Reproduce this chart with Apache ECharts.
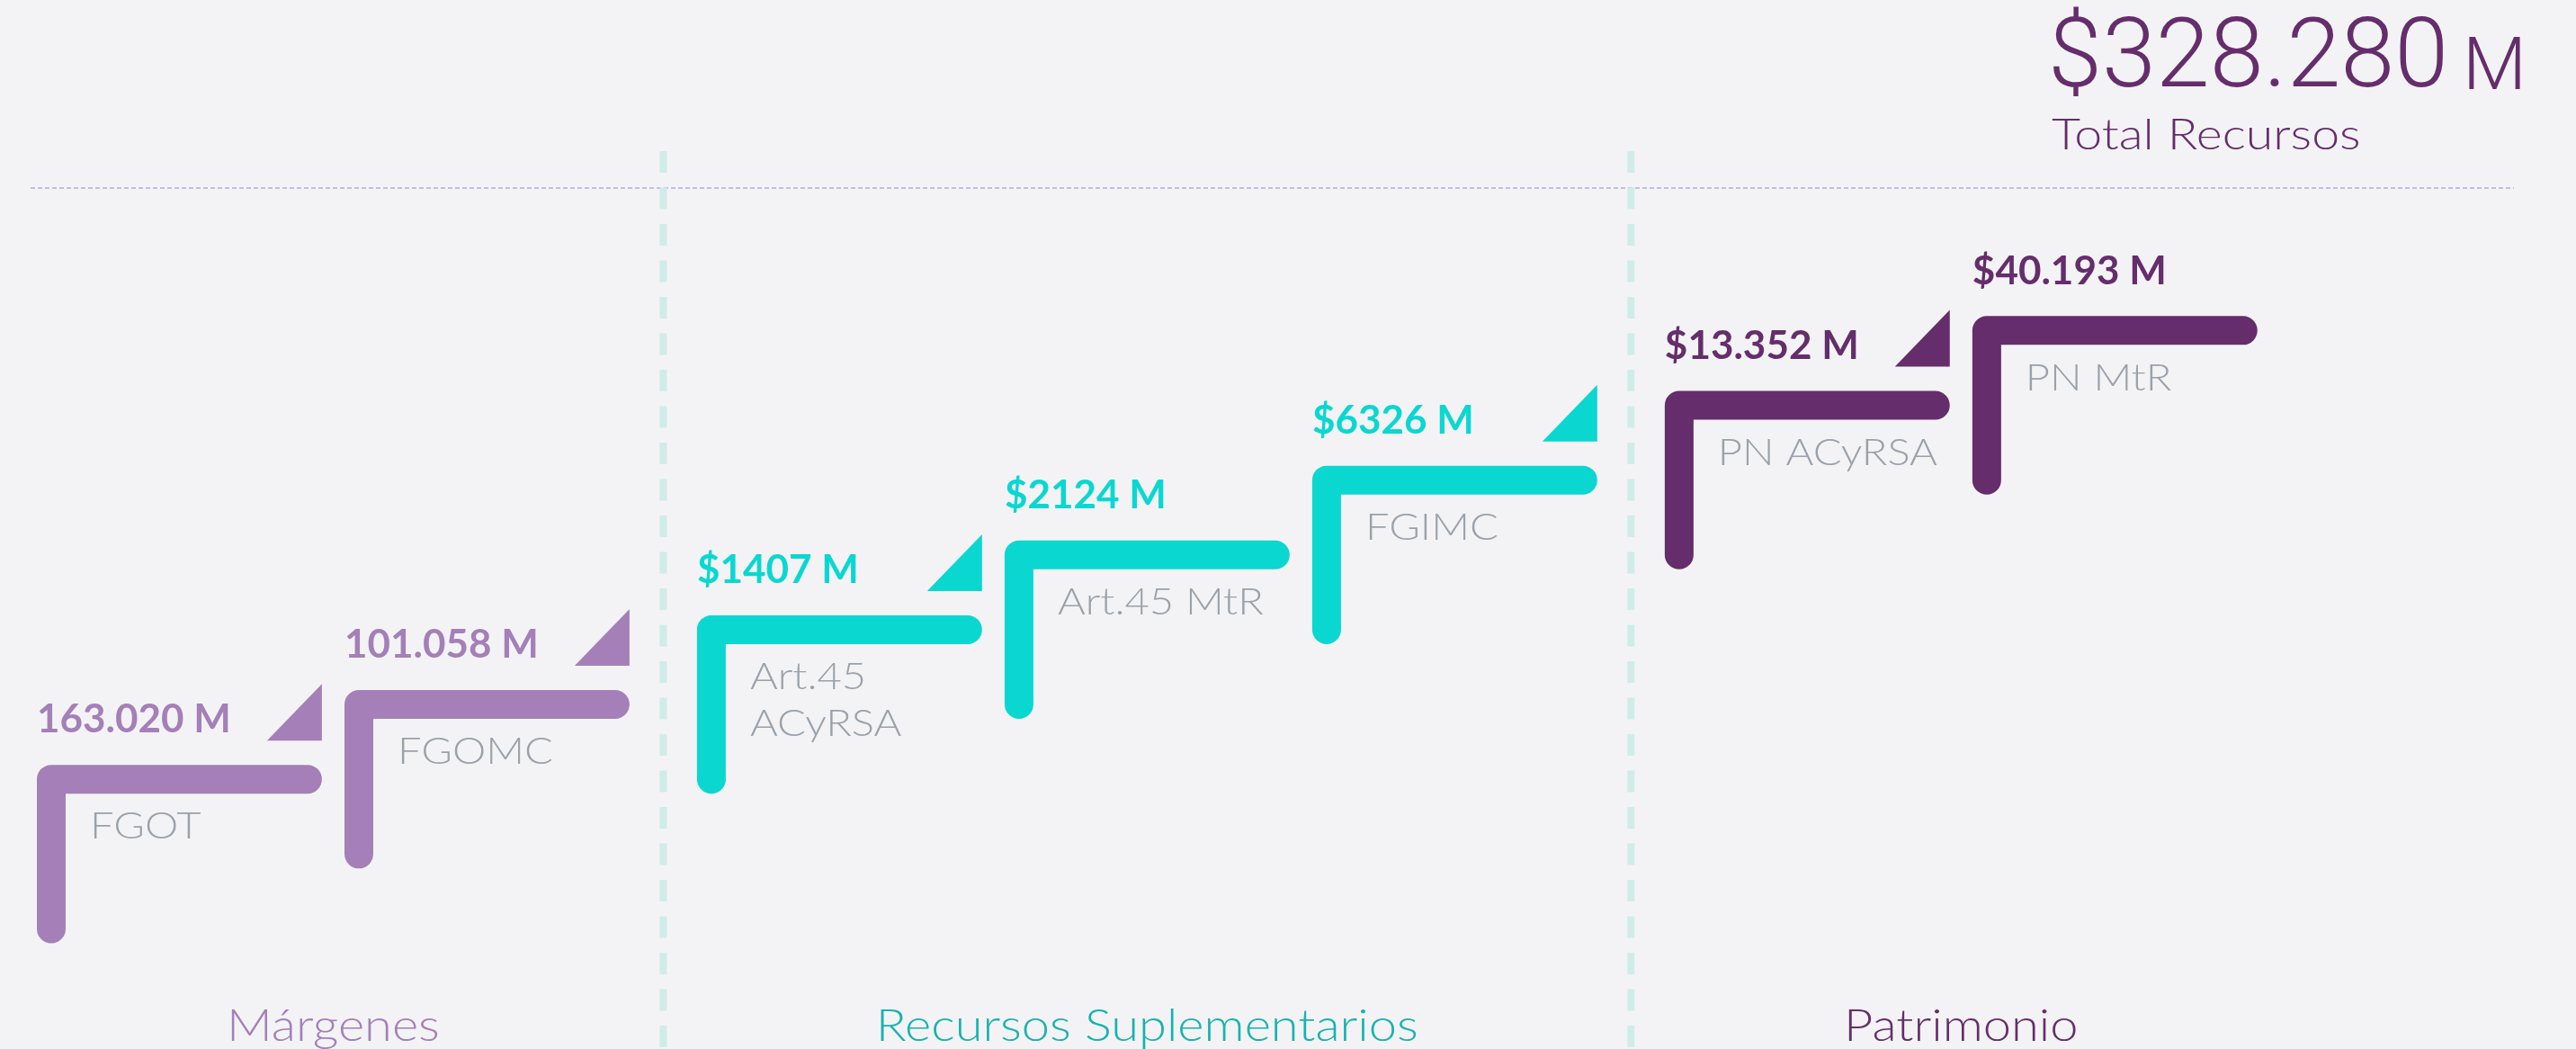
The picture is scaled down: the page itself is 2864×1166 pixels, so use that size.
<!DOCTYPE html>
<html><head><meta charset="utf-8">
<script src="https://cdn.jsdelivr.net/npm/echarts@6/dist/echarts.min.js"></script>
<style>html,body{margin:0;padding:0;background:#f3f3f5;} #c{width:2864px;height:1166px;}</style>
</head><body><div id="c"></div>
<script>
// ---------- DATA ----------
const categories = ['FGOT', 'FGOMC', 'Art.45\nACyRSA', 'Art.45 MtR', 'FGIMC', 'PN ACyRSA', 'PN MtR'];
const valueLabels = ['163.020 M', '101.058 M', '$1407 M', '$2124 M', '$6326 M', '$13.352 M', '$40.193 M'];
const valuesM = [163020, 101058, 1407, 2124, 6326, 13352, 40193];
const stepLevels = [0, 1, 2, 3, 4, 5, 6];
const categoryGroup = [0, 0, 1, 1, 1, 2, 2];
const showMarker = [true, true, true, false, true, true, false];
const groupNames = ['Márgenes', 'Recursos Suplementarios', 'Patrimonio'];
const totalValue = '$328.280';
const totalUnit = 'M';
const totalCaption = 'Total Recursos';

// ---------- STYLE / LAYOUT ----------
const GROUP_GAP = 0.146;
const ARM = 0.833;
const DEPTH = 2;
const STROKE = 32;
const GROUP_LABEL_LEVEL = -3.3;
const groupColors = ['#a47fb8', '#0bd7d1', '#652d6b'];
const groupLabelColors = ['#a47fb8', '#17b3ae', '#652d6b'];
const labelGray = '#9ba1aa';
const FONT = 'Lato, "Noto Sans", sans-serif';
const LABEL_STRETCH = 1.15;
const GROUP_STRETCH = 1.12;
const CAPTION_STRETCH = 1.18;

const stepX = categories.map((c, i) => i + GROUP_GAP * categoryGroup[i]);
const stepData = categories.map((c, i) => [stepX[i], stepLevels[i], i]);

const groupData = groupNames.map((g, gi) => {
  const idx = categoryGroup.map((v, i) => v === gi ? i : -1).filter(v => v >= 0);
  return [stepX[idx[0]], stepX[idx[idx.length - 1]] + ARM, gi];
});
const dividerData = groupData.slice(1).map((g, k) => [(groupData[k][1] + g[0]) / 2, k]);

function renderStep(params, api) {
  const i = api.value(2);
  const x = api.value(0), lvl = api.value(1);
  const corner = api.coord([x, lvl]);
  const bottom = api.coord([x, lvl - DEPTH]);
  const end = api.coord([x + ARM, lvl]);
  const color = groupColors[categoryGroup[i]];
  const half = STROKE / 2;
  const children = [{
    type: 'polyline',
    shape: { points: [bottom, corner, end] },
    style: { stroke: color, lineWidth: STROKE, lineCap: 'round', lineJoin: 'round', fill: null }
  }];
  if (showMarker[i]) {
    const rx = end[0] + half;
    children.push({
      type: 'polygon',
      shape: { points: [[rx, end[1] - 106], [rx, end[1] - 43], [rx - 61, end[1] - 43]] },
      style: { fill: color }
    });
  }
  children.push({
    type: 'text',
    style: { text: valueLabels[i], x: corner[0] - half, y: end[1] - 66, fill: color,
      font: 'bold 44px ' + FONT, align: 'left', verticalAlign: 'middle' }
  });
  const lines = categories[i].split('\n').length;
  const LH = 52;
  children.push({
    type: 'text',
    x: corner[0] + half + 27,
    y: end[1] + 53 + (lines - 1) * LH / 2,
    scaleX: LABEL_STRETCH,
    style: { text: categories[i], x: 0, y: 0,
      fill: labelGray, font: '300 41px ' + FONT, align: 'left', verticalAlign: 'middle', lineHeight: LH }
  });
  return { type: 'group', children };
}

function renderGroup(params, api) {
  const gi = api.value(2);
  const a = api.coord([api.value(0), GROUP_LABEL_LEVEL]);
  const b = api.coord([api.value(1), GROUP_LABEL_LEVEL]);
  return {
    type: 'text',
    x: (a[0] + b[0]) / 2,
    y: a[1],
    scaleX: GROUP_STRETCH,
    style: { text: groupNames[gi], x: 0, y: 0, fill: groupLabelColors[gi],
      font: '300 50px ' + FONT, align: 'center', verticalAlign: 'middle' }
  };
}

function renderDivider(params, api) {
  const p = api.coord([api.value(0), 0]);
  return {
    type: 'line',
    shape: { x1: p[0], y1: 168, x2: p[0], y2: 1200 },
    style: { stroke: '#cfece8', lineWidth: 8, lineDash: [24, 16.5] },
    z2: -1
  };
}

const chart = echarts.init(document.getElementById('c'), null, { renderer: 'canvas' });
chart.setOption({
  backgroundColor: '#f3f3f5',
  animation: false,
  grid: { left: 57, right: 71, top: 34.8, bottom: 50.4 },
  xAxis: { type: 'value', min: 0, max: 8, show: false, splitLine: { show: false } },
  yAxis: { type: 'value', min: -3, max: 10, show: false, splitLine: { show: false } },
  graphic: [
    { type: 'line', shape: { x1: 34, y1: 209, x2: 2795, y2: 209 },
      style: { stroke: '#c4bbef', lineWidth: 2, lineDash: [5, 3] }, z: 0 },
    { type: 'text', style: { text: totalValue, x: 2277, y: 69, fill: '#652d6b',
      font: '300 108px Roboto, Lato, sans-serif', textAlign: 'left', align: 'left', textVerticalAlign: 'middle', verticalAlign: 'middle' } },
    { type: 'text', style: { text: totalUnit, x: 2738, y: 78, fill: '#652d6b',
      font: '300 82px Roboto, Lato, sans-serif', textAlign: 'left', align: 'left', textVerticalAlign: 'middle', verticalAlign: 'middle' } },
    { type: 'text', x: 2281, y: 151, scaleX: CAPTION_STRETCH,
      style: { text: totalCaption, x: 0, y: 0, fill: '#652d6b',
      font: '300 47px ' + FONT, textAlign: 'left', align: 'left', textVerticalAlign: 'middle', verticalAlign: 'middle' } }
  ],
  series: [
    { type: 'custom', name: 'dividers', data: dividerData, renderItem: renderDivider, z: 1, silent: true },
    { type: 'custom', name: 'steps', data: stepData, renderItem: renderStep, z: 3, encode: { x: 0, y: 1 } },
    { type: 'custom', name: 'groups', data: groupData, renderItem: renderGroup, z: 2 }
  ]
});
</script></body></html>
